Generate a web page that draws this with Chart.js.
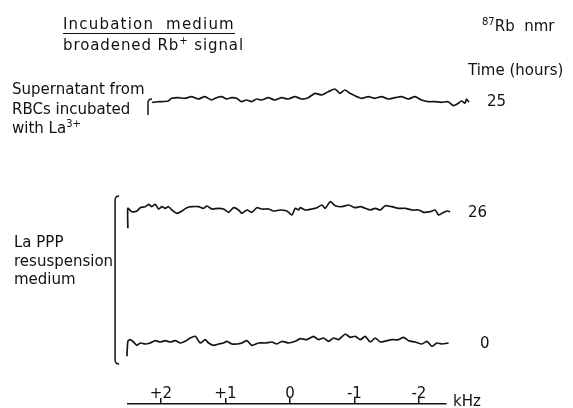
<!DOCTYPE html>
<html>
<head>
<meta charset="utf-8">
<script src="https://cdn.jsdelivr.net/npm/chart.js@4.4.1/dist/chart.umd.min.js"></script>
<style>
  html, body { margin: 0; padding: 0; background: #fff; }
  #wrap { position: relative; width: 573px; height: 408px; font-family: "DejaVu Sans", sans-serif; color: #111; }
  #wrap canvas { position: absolute; left: 0; top: 0; }
  .t { position: absolute; font-size: 15px; line-height: 18px; white-space: nowrap; }
  .t sup { font-size: 10px; line-height: 0; vertical-align: 6px; }
  .ul { border-bottom: 1.5px solid #111; line-height: 17px; letter-spacing: 1.2px; }
</style>
</head>
<body>
<div id="wrap">
  <canvas id="nmr" width="573" height="408"></canvas>
  <div class="t ul" style="left:63px; top:16px;">Incubation&nbsp; medium</div>
  <div class="t" style="left:63px; top:36px; letter-spacing:0.9px;">broadened Rb<sup>+</sup> signal</div>
  <div class="t" style="left:482px; top:17px;"><sup>87</sup>Rb&nbsp; nmr</div>
  <div class="t" style="left:468px; top:61px;">Time (hours)</div>
  <div class="t" style="left:12px; top:80px;">Supernatant from</div>
  <div class="t" style="left:12px; top:100px;">RBCs incubated</div>
  <div class="t" style="left:12px; top:119px;">with La<sup>3+</sup></div>
  <div class="t" style="left:14px; top:233px;">La PPP</div>
  <div class="t" style="left:14px; top:252px;">resuspension</div>
  <div class="t" style="left:14px; top:270px;">medium</div>
  <div class="t" style="left:487px; top:92px;">25</div>
  <div class="t" style="left:468px; top:203px;">26</div>
  <div class="t" style="left:480px; top:334px;">0</div>
  <div class="t" style="left:453px; top:392px;">kHz</div>
</div>
<script>
// frequency offsets (kHz) and signal (arbitrary units)
const khz25 = [2.135, 2.016, 1.886, 1.835, 1.731, 1.628, 1.525, 1.421, 1.318, 1.214, 1.137, 1.059, 0.982, 0.904, 0.827, 0.749, 0.672, 0.594, 0.517, 0.439, 0.336, 0.233, 0.129, 0.026, -0.078, -0.181, -0.284, -0.388, -0.491, -0.594, -0.698, -0.775, -0.853, -0.930, -1.008, -1.111, -1.214, -1.318, -1.421, -1.525, -1.628, -1.731, -1.835, -1.938, -2.041, -2.145, -2.248, -2.351, -2.455, -2.532, -2.610, -2.661, -2.713, -2.739, -2.775];
const sig25 = [-2.3, -1.7, -1.0, 1.7, 2.3, 1.7, 3.3, 1.0, 3.3, 0, 2.3, 3.3, 1.0, 2.3, 1.7, -1.7, 0, -1.7, 1.0, 0, 2.3, 0, 2.3, 1.0, 3.3, 1.0, 2.3, 6.7, 5.0, 8.3, 11.0, 6.7, 10.0, 6.7, 4.3, 1.7, 3.3, 1.7, 3.3, 1.0, 2.3, 3.3, 1.0, 3.3, 0, -1.7, -1.7, -2.3, -1.7, -5.7, -3.3, -1.0, -3.3, 1.0, -2.3];

const khz26 = [2.512, 2.512, 2.450, 2.372, 2.320, 2.243, 2.191, 2.140, 2.088, 2.036, 1.984, 1.933, 1.881, 1.829, 1.752, 1.674, 1.597, 1.519, 1.416, 1.339, 1.287, 1.209, 1.106, 1.028, 0.951, 0.873, 0.796, 0.744, 0.667, 0.589, 0.512, 0.434, 0.331, 0.253, 0.150, 0.047, -0.031, -0.083, -0.134, -0.160, -0.238, -0.341, -0.419, -0.496, -0.548, -0.625, -0.703, -0.806, -0.910, -1.013, -1.091, -1.168, -1.246, -1.323, -1.401, -1.478, -1.581, -1.685, -1.788, -1.891, -1.995, -2.072, -2.176, -2.253, -2.305, -2.357, -2.434, -2.485];
const sig26 = [-19.3, 0.7, -2.7, -2.0, 1.3, 2.3, 4.7, 2.3, 4.7, 0, 2.3, 0.7, 2.3, -1.0, -4.3, -2.0, 1.3, 2.3, 2.3, 0.7, 3.0, 0, 0.7, 0, -3.3, 1.3, -1.0, -4.3, -1.0, -3.3, 1.3, 0, 0, -2.0, -1.0, -2.0, -6.0, 0.7, -1.0, 1.3, -1.0, 0, 1.3, 4.0, 0.7, 7.3, 3.3, 2.3, 4.0, 1.3, 2.3, 0.7, -1.0, 0.7, -1.0, 3.3, 2.3, 0.7, 0.7, -1.0, -1.0, -3.3, -2.7, -1.0, -6.0, -4.3, -2.0, -2.7];

const khz0 = [2.527, 2.512, 2.476, 2.424, 2.372, 2.320, 2.243, 2.165, 2.088, 2.010, 1.933, 1.855, 1.778, 1.700, 1.623, 1.545, 1.468, 1.390, 1.313, 1.261, 1.184, 1.106, 1.028, 0.977, 0.899, 0.822, 0.744, 0.667, 0.589, 0.486, 0.382, 0.279, 0.202, 0.124, 0.021, -0.083, -0.160, -0.264, -0.367, -0.444, -0.522, -0.599, -0.677, -0.754, -0.858, -0.935, -1.013, -1.091, -1.168, -1.246, -1.323, -1.401, -1.504, -1.581, -1.685, -1.762, -1.840, -1.943, -2.047, -2.124, -2.202, -2.279, -2.357, -2.460];
const sig0 = [-14.3, 0.7, 2.3, 0, -3.3, -1.0, -2.0, -1.0, 1.3, 0, 1.3, 0, 1.3, -1.0, 0.7, 4.0, 5.7, -1.0, 2.3, -1.0, -3.3, -2.0, -1.0, 0.7, -2.0, -2.0, -1.0, 1.3, -3.3, -1.0, -1.0, 0, -2.0, 0.7, -1.0, 0.7, 3.3, 2.3, 5.7, 2.3, 4.0, 0.7, 4.0, 2.3, 8.0, 4.7, 5.7, 2.3, 5.7, 0, 4.0, 0, 1.3, 2.3, 2.3, 4.7, 1.3, 0, -2.0, 0.7, -4.3, -1.0, -2.0, -1.0];

const times = ['25', '26', '0'];
const tickValues = [2, 1, 0, -1, -2];

// vertical stacking of the three spectra
const offsets = [304, 195, 62];
const ink = '#151515';

function pts(xs, ys, off) {
    return xs.map((x, i) => ({ x: x, y: ys[i] + off }));
}

// brackets grouping the traces, in data units
const brackets = [
    { x: 2.20, top: 304, bottom: 286, hookBottom: false },
    { x: 2.71, top: 207, bottom: 41, hookBottom: true }
];

const bracketPlugin = {
    id: 'brackets',
    afterDatasetsDraw(chart) {
        const { ctx, scales: { x, y } } = chart;
        ctx.save();
        ctx.strokeStyle = ink;
        ctx.lineWidth = 1.5;
        brackets.forEach(b => {
            const px = x.getPixelForValue(b.x);
            const t = y.getPixelForValue(b.top);
            const bt = y.getPixelForValue(b.bottom);
            ctx.beginPath();
            ctx.moveTo(px + 4, t - 1);
            ctx.quadraticCurveTo(px, t - 1, px, t + 3);
            ctx.lineTo(px, bt - 3);
            if (b.hookBottom) ctx.quadraticCurveTo(px, bt + 1, px + 4, bt + 1);
            ctx.stroke();
        });
        ctx.restore();
    }
};

const line = (data) => ({
    data: data,
    borderColor: ink,
    borderWidth: 1.7,
    pointRadius: 0,
    tension: 0.2,
    fill: false,
    clip: false
});

new Chart(document.getElementById('nmr'), {
    type: 'line',
    data: {
        datasets: [
            line(pts(khz25, sig25, offsets[0])),
            line(pts(khz26, sig26, offsets[1])),
            line(pts(khz0, sig0, offsets[2]))
        ]
    },
    options: {
        responsive: false,
        animation: false,
        events: [],
        layout: { padding: { left: 128, right: 127, top: 380, bottom: 0 } },
        plugins: { legend: { display: false }, tooltip: { enabled: false } },
        scales: {
            x: {
                type: 'linear',
                position: 'top',
                reverse: true,
                min: -2.42,
                max: 2.51,
                afterBuildTicks: (s) => { s.ticks = tickValues.map(v => ({ value: v })); },
                afterFit: (s) => { s.height = 24; },
                border: { display: true, color: ink, width: 1.5 },
                grid: { drawOnChartArea: false, drawTicks: true, tickLength: 6, color: ink, lineWidth: 1.5 },
                ticks: {
                    padding: -5,
                    color: '#111',
                    font: { family: 'DejaVu Sans', size: 15 },
                    maxRotation: 0,
                    autoSkip: false,
                    callback: (v) => (v > 0 ? '+' + v : String(v))
                }
            },
            y: { type: 'linear', display: false, min: -4, max: 0 }
        }
    },
    plugins: [bracketPlugin]
});
</script>
</body>
</html>
